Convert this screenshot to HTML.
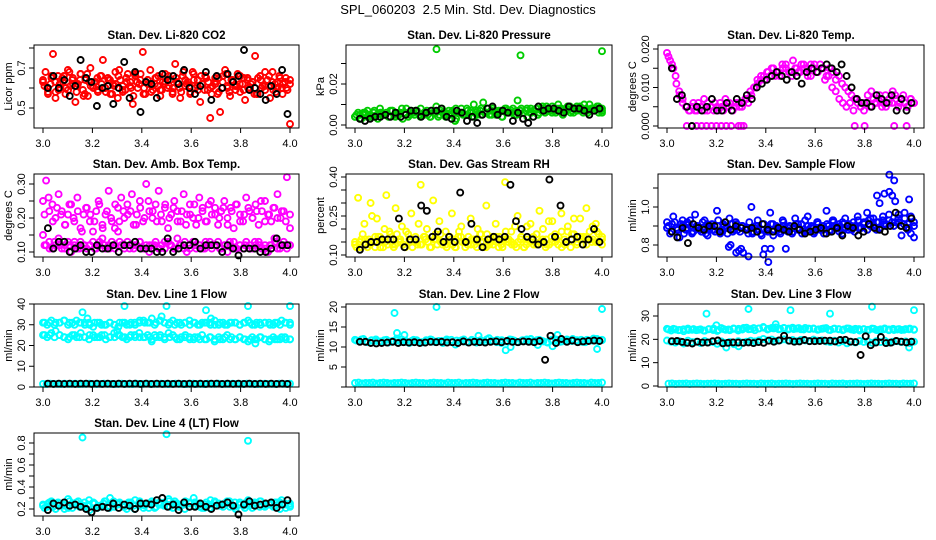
<!DOCTYPE html>
<html><head><meta charset="utf-8">
<style>
html,body{margin:0;padding:0;background:#fff;}
svg{display:block;font-family:"Liberation Sans",sans-serif;}
</style></head>
<body>
<svg id="chart" width="936" height="540" viewBox="0 0 936 540" xmlns="http://www.w3.org/2000/svg">
<rect width="936" height="540" fill="#fff"/>
<text x="468" y="14" text-anchor="middle" font-size="13">SPL_060203&#160; 2.5 Min. Std. Dev. Diagnostics</text>
</svg>
<script>
// ---- data ----
const co2Red = [0.64,0.68,0.58,0.62,0.77,0.55,0.66,0.60,0.63,0.57,0.69,0.61,0.65,0.53,0.62,0.67,0.59,0.64,0.56,0.70,0.61,0.63,0.58,0.66,0.74,0.60,0.65,0.57,0.62,0.68,0.55,0.64,0.61,0.59,0.67,0.63,0.52,0.66,0.60,0.64,0.78,0.57,0.62,0.69,0.59,0.65,0.61,0.56,0.63,0.67,0.60,0.64,0.58,0.72,0.62,0.55,0.66,0.61,0.63,0.57,0.68,0.60,0.64,0.53,0.62,0.66,0.59,0.45,0.61,0.65,0.57,0.48,0.63,0.69,0.60,0.56,0.64,0.61,0.67,0.58,0.62,0.54,0.65,0.60,0.63,0.76,0.57,0.66,0.61,0.59,0.64,0.55,0.68,0.62,0.60,0.65,0.57,0.63,0.59,0.42];
const co2RedB = [0.61,0.57,0.66,0.63,0.59,0.65,0.60,0.68,0.62,0.58,0.64,0.56,0.67,0.61,0.63,0.59,0.66,0.60,0.64,0.57,0.62,0.69,0.58,0.65,0.61,0.56,0.63,0.67,0.60,0.64,0.58,0.62,0.66,0.59,0.63,0.61,0.57,0.65,0.60,0.68,0.62,0.58,0.64,0.61,0.66,0.59,0.63,0.57,0.62,0.65,0.60,0.67,0.58,0.63,0.61,0.66,0.59,0.64,0.62,0.57,0.65,0.60,0.68,0.61,0.63,0.58,0.66,0.62,0.60,0.64];
const co2RedC = [0.63,0.60,0.65,0.58,0.62,0.66,0.59,0.64,0.61,0.67,0.57,0.63,0.60,0.65,0.62,0.58,0.64,0.61,0.66,0.59,0.63,0.60,0.67,0.62,0.57,0.64,0.61,0.65,0.59,0.62,0.66,0.60,0.63,0.58,0.64,0.61,0.67,0.59,0.62,0.65,0.60,0.63,0.58,0.66,0.61,0.64,0.59,0.62,0.65,0.60,0.63,0.57,0.64,0.61,0.66,0.59,0.63,0.60,0.65,0.62];
const co2Black = [0.60,0.66,0.60,0.64,0.56,0.61,0.74,0.65,0.63,0.51,0.60,0.61,0.52,0.60,0.73,0.55,0.68,0.48,0.63,0.62,0.55,0.67,0.64,0.66,0.62,0.69,0.60,0.57,0.61,0.68,0.54,0.66,0.60,0.67,0.63,0.66,0.79,0.59,0.60,0.57,0.54,0.61,0.57,0.69,0.47];

const presGreen = [0.004,0.006,0.003,0.005,0.007,0.004,0.006,0.005,0.008,0.005,0.006,0.004,0.007,0.006,0.005,0.008,0.006,0.004,0.007,0.005,0.006,0.008,0.005,0.007,0.004,0.006,0.009,0.005,0.006,0.004,0.007,0.005,0.002,0.006,0.008,0.005,0.007,0.006,0.010,0.005,0.007,0.011,0.006,0.005,0.008,0.006,0.007,0.004,0.008,0.006,0.007,0.005,0.012,0.007,0.006,0.008,0.006,0.007,0.008,0.006,0.009,0.007,0.008,0.006,0.007,0.010,0.008,0.007,0.009,0.006,0.008,0.007,0.009,0.006,0.008,0.010,0.007,0.008,0.006,0.008];
const presGreenB = [0.005,0.003,0.006,0.004,0.005,0.007,0.003,0.006,0.005,0.004,0.007,0.005,0.006,0.003,0.008,0.005,0.006,0.007,0.004,0.006,0.005,0.007,0.006,0.004,0.008,0.006,0.005,0.007,0.003,0.006,0.005,0.008,0.006,0.004,0.007,0.005,0.006,0.008,0.005,0.007,0.006,0.004,0.007,0.006,0.008,0.005,0.007,0.006,0.004,0.008,0.007,0.005,0.008,0.006,0.007,0.009,0.006,0.008,0.005,0.007,0.009,0.006,0.008,0.007,0.010,0.006,0.008,0.007,0.009,0.006];
const presGreenC = [0.004,0.005,0.006,0.005,0.004,0.006,0.005,0.007,0.004,0.006,0.005,0.006,0.007,0.005,0.006,0.004,0.006,0.007,0.005,0.006,0.008,0.006,0.005,0.007,0.006,0.008,0.006,0.007,0.005,0.007,0.008,0.006,0.007,0.008,0.007,0.006,0.008,0.007,0.009,0.007,0.008,0.006,0.008,0.007,0.009,0.008,0.007,0.008,0.009,0.007];
const presOutX = [3.33,3.67,4.0];
const presOutY = [0.037,0.034,0.036];
const presBlack = [0.003,0.002,0.003,0.004,0.004,0.005,0.004,0.006,0.004,0.005,0.007,0.007,0.004,0.006,0.007,0.007,0.008,0.004,0.003,0.007,0.006,0.002,0.004,0.001,0.005,0.008,0.009,0.005,0.007,0.006,0.002,0.006,0.003,0.001,0.004,0.009,0.007,0.008,0.008,0.007,0.006,0.009,0.008,0.008,0.007,0.005,0.007,0.008];

const tempMag = [0.019,0.017,0.015,0.011,0.008,0.006,0.005,0.004,0.005,0.004,0.006,0.005,0.004,0.006,0.005,0.004,0.005,0.006,0.004,0.005,0.006,0.004,0.005,0.006,0.005,0.007,0.006,0.008,0.010,0.011,0.012,0.013,0.014,0.013,0.015,0.014,0.013,0.015,0.016,0.014,0.013,0.015,0.014,0.016,0.015,0.013,0.016,0.015,0.014,0.016,0.015,0.013,0.015,0.014,0.012,0.013,0.011,0.010,0.009,0.008,0.007,0.006,0.005,0.004,0.006,0.005,0.007,0.006,0.008,0.006,0.005,0.007,0.006,0.008,0.005,0.007,0.006,0.005,0.007,0.006];
const tempMagB = [0.018,0.016,0.013,0.009,0.007,0.005,0.004,0.006,0.004,0.005,0.007,0.004,0.005,0.006,0.004,0.005,0.007,0.005,0.004,0.006,0.005,0.006,0.007,0.009,0.010,0.012,0.013,0.012,0.014,0.015,0.013,0.014,0.016,0.015,0.014,0.017,0.015,0.014,0.016,0.015,0.013,0.016,0.014,0.015,0.012,0.013,0.010,0.009,0.007,0.006,0.005,0.006,0.004,0.007,0.005,0.006,0.008,0.009,0.006,0.007,0.005,0.008,0.006,0.009,0.007,0.006,0.008,0.005,0.007,0.006];
const tempZeroX = [3.08,3.12,3.14,3.16,3.18,3.2,3.22,3.24,3.26,3.29,3.3,3.31,3.76,3.8,3.92,3.97];
const tempZeroY = [0,0,0,0,0,0,0,0,0,0,0,0,0,0,0,0];
const tempBlack = [0.015,0.007,0.008,0.005,0.000,0.005,0.004,0.005,0.007,0.004,0.004,0.006,0.004,0.007,0.006,0.008,0.007,0.010,0.011,0.012,0.013,0.014,0.013,0.012,0.014,0.013,0.011,0.014,0.015,0.014,0.015,0.016,0.015,0.014,0.016,0.013,0.010,0.007,0.006,0.006,0.005,0.008,0.007,0.006,0.008,0.004,0.007,0.004,0.006];

const boxUpper = [0.25,0.31,0.22,0.24,0.20,0.27,0.22,0.18,0.21,0.24,0.19,0.26,0.17,0.21,0.23,0.19,0.16,0.22,0.24,0.18,0.21,0.28,0.19,0.17,0.23,0.26,0.20,0.24,0.22,0.18,0.21,0.25,0.19,0.30,0.22,0.20,0.24,0.28,0.19,0.23,0.17,0.21,0.25,0.22,0.19,0.27,0.21,0.24,0.20,0.18,0.26,0.22,0.19,0.24,0.21,0.23,0.18,0.22,0.25,0.20,0.23,0.17,0.24,0.21,0.19,0.26,0.22,0.20,0.24,0.18,0.22,0.25,0.21,0.19,0.23,0.27,0.20,0.22,0.32,0.17];
const boxUpperB = [0.21,0.26,0.19,0.23,0.21,0.18,0.24,0.20,0.22,0.16,0.23,0.21,0.19,0.25,0.17,0.22,0.20,0.24,0.19,0.22,0.21,0.27,0.18,0.23,0.20,0.25,0.22,0.19,0.21,0.24,0.20,0.23,0.19,0.22,0.18,0.21,0.24,0.20,0.23,0.19,0.25,0.21,0.20,0.23,0.18,0.22,0.24,0.19,0.21,0.23,0.20,0.22,0.25,0.19,0.21,0.23,0.20,0.22,0.19,0.21];
const boxLower = [0.15,0.12,0.13,0.11,0.12,0.14,0.11,0.12,0.13,0.10,0.12,0.11,0.13,0.12,0.11,0.12,0.13,0.11,0.12,0.14,0.11,0.12,0.13,0.11,0.16,0.12,0.11,0.13,0.12,0.11,0.12,0.13,0.11,0.12,0.10,0.12,0.13,0.11,0.12,0.11,0.13,0.12,0.11,0.14,0.12,0.11,0.10,0.12,0.13,0.11,0.12,0.11,0.13,0.12,0.11,0.12,0.13,0.11,0.12,0.10,0.12,0.13,0.11,0.12,0.11,0.13,0.12,0.11,0.12,0.13,0.11,0.12,0.10,0.12,0.14,0.11,0.12,0.13,0.11,0.12];
const boxLowerB = [0.12,0.11,0.13,0.12,0.11,0.12,0.13,0.11,0.12,0.12,0.11,0.13,0.12,0.11,0.12,0.13,0.12,0.11,0.12,0.13,0.11,0.12,0.12,0.11,0.13,0.12,0.11,0.12,0.13,0.11,0.12,0.12,0.11,0.13,0.12,0.11,0.12,0.13,0.11,0.12,0.12,0.11,0.13,0.12,0.11,0.12,0.13,0.11,0.12,0.12];
const boxBlack = [0.17,0.11,0.13,0.13,0.10,0.11,0.12,0.10,0.10,0.12,0.11,0.11,0.12,0.10,0.12,0.12,0.13,0.11,0.11,0.11,0.10,0.10,0.14,0.10,0.11,0.12,0.12,0.13,0.11,0.12,0.12,0.12,0.10,0.12,0.11,0.09,0.11,0.11,0.11,0.10,0.10,0.11,0.14,0.12,0.12];

const rhYellow = [0.14,0.32,0.16,0.22,0.13,0.30,0.15,0.24,0.17,0.13,0.33,0.19,0.14,0.28,0.16,0.21,0.13,0.18,0.26,0.15,0.14,0.37,0.17,0.20,0.13,0.31,0.16,0.23,0.14,0.19,0.15,0.26,0.13,0.17,0.21,0.15,0.14,0.24,0.16,0.13,0.18,0.15,0.29,0.14,0.17,0.22,0.13,0.16,0.38,0.15,0.19,0.14,0.25,0.16,0.13,0.21,0.15,0.17,0.14,0.27,0.16,0.13,0.23,0.15,0.18,0.14,0.26,0.16,0.19,0.13,0.24,0.15,0.17,0.14,0.28,0.16,0.21,0.15,0.18,0.14];
const rhYellowB = [0.13,0.15,0.18,0.14,0.16,0.25,0.13,0.17,0.15,0.20,0.14,0.16,0.13,0.18,0.15,0.14,0.19,0.16,0.13,0.15,0.22,0.14,0.17,0.15,0.13,0.16,0.14,0.18,0.15,0.13,0.17,0.14,0.16,0.19,0.15,0.13,0.17,0.16,0.14,0.20,0.15,0.13,0.18,0.16,0.14,0.15,0.17,0.13,0.19,0.16,0.14,0.21,0.15,0.17,0.13,0.16,0.22,0.14,0.18,0.15,0.20,0.16,0.14,0.23,0.15,0.17,0.19,0.14,0.21,0.16,0.18,0.15,0.24,0.17,0.14,0.19,0.16,0.22,0.15,0.17];
const rhYellowC = [0.15,0.13,0.16,0.14,0.17,0.13,0.15,0.18,0.14,0.16,0.13,0.15,0.17,0.14,0.16,0.13,0.18,0.15,0.14,0.16,0.13,0.17,0.15,0.14,0.16,0.18,0.13,0.15,0.17,0.14,0.16,0.15,0.13,0.17,0.14,0.16,0.18,0.15,0.14,0.17,0.16,0.13,0.15,0.18,0.14,0.16,0.17,0.15,0.19,0.16];
const rhBlack = [0.12,0.14,0.15,0.15,0.16,0.16,0.16,0.24,0.13,0.16,0.16,0.29,0.27,0.17,0.19,0.15,0.17,0.15,0.34,0.15,0.22,0.16,0.13,0.16,0.17,0.16,0.17,0.37,0.23,0.20,0.17,0.16,0.14,0.15,0.39,0.17,0.29,0.15,0.16,0.17,0.14,0.16,0.20,0.15];

const flowBlue = [0.92,0.86,0.95,0.89,0.84,0.93,0.88,0.91,0.86,0.96,0.89,0.87,0.93,0.85,0.90,0.88,0.98,0.86,0.91,0.89,0.94,0.87,0.92,0.77,0.90,0.88,0.86,1.00,0.89,0.93,0.86,0.91,0.88,0.97,0.85,0.90,0.87,0.93,0.78,0.89,0.86,0.94,0.88,0.91,0.87,0.95,0.89,0.86,0.92,0.88,0.90,0.98,0.87,0.93,0.89,0.91,0.86,0.94,0.88,0.90,0.87,0.95,0.89,0.92,0.97,0.90,0.94,0.88,1.02,0.93,0.90,0.96,0.92,1.03,0.94,0.85,0.97,0.91,0.95,0.84];
const flowBlueB = [0.90,0.87,0.92,0.88,0.91,0.86,0.89,0.93,0.87,0.90,0.88,0.92,0.86,0.89,0.91,0.87,0.93,0.88,0.90,0.86,0.80,0.88,0.91,0.87,0.76,0.89,0.92,0.86,0.90,0.88,0.85,0.78,0.87,0.91,0.88,0.89,0.86,0.92,0.88,0.90,0.87,0.91,0.89,0.86,0.93,0.88,0.90,0.87,0.92,0.89,0.86,0.91,0.88,0.93,0.90,0.87,0.92,0.89,0.91,0.88,0.90,0.93,0.89,0.91,0.88,0.94,0.90,0.92,0.89,0.95,0.91,0.93,1.06,0.92,0.96,0.90,0.94,0.88,0.86,0.92];
const flowBlueC = [0.89,0.91,0.88,0.90,0.92,0.87,0.90,0.89,0.91,0.88,0.90,0.87,0.89,0.91,0.88,0.90,0.89,0.87,0.90,0.88,0.89,0.91,0.88,0.90,0.87,0.89,0.91,0.88,0.90,0.89,0.91,0.88,0.90,0.92,0.89,0.91,0.90,0.92,0.89,0.91,0.93,0.90,0.92,0.91,0.93,0.90,0.92,0.91,0.89,0.90];
const flowOutX = [3.25,3.28,3.30,3.33,3.39,3.41,3.42,3.85,3.88,3.90,3.92,3.98,3.90];
const flowOutY = [0.79,0.76,0.78,0.74,0.75,0.71,0.78,1.06,1.07,1.17,1.14,1.04,1.08];
const flowBlack = [0.87,0.84,0.89,0.81,0.91,0.89,0.88,0.90,0.90,0.87,0.92,0.88,0.90,0.89,0.88,0.89,0.87,0.91,0.88,0.87,0.89,0.88,0.87,0.90,0.88,0.86,0.87,0.88,0.89,0.86,0.87,0.89,0.85,0.90,0.89,0.85,0.87,0.91,0.89,0.88,0.87,0.90,0.97,0.90,0.89,0.94];

const l1Upper = [31,30,32,31,31,32,30,31,32,31,30,31,29,31,30,30,31,30,29,31,30,31,30,31,32,31,33,31,32,31,30,32,31,30,31,32,31,30,31,31,30,32,30,31,30,31,31,30,31,32,30,31,30,31,31,30,31,32,31,30];
const l1UpperB = [31,31,30,31,32,31,30,31,31,30,31,31,30,31,30,31,31,30,31,32,31,31,30,32,31,31,30,31,31,30,31,30,31,31,30,31,30,31,31,30,31,31,30,31,31,30,31,30,31,31];
const l1Mid = [25,24,26,27,25,24,23,25,24,26,24,23,25,24,25,23,24,26,25,24,23,25,24,26,24,25,23,24,25,24,26,25,23,24,25,24,23,24,25,23,24,22,24,23,25,24,23,24,23,22,24,23,24,23,22,24,23,24,23,23];
const l1MidB = [25,25,24,25,24,24,25,24,24,25,24,24,25,24,24,25,24,24,25,24,24,24,25,24,23,24,24,23,24,23,24,23,23,24,23,23,24,23,23,24,23,23,23,24,23,23,23,23,24,23];
const l1Low = [1.5,1.4,1.6,1.5,1.5,1.4,1.6,1.5,1.5,1.6,1.4,1.5,1.5,1.6,1.5,1.4,1.5,1.6,1.5,1.5,1.4,1.5,1.6,1.5,1.5,1.4,1.6,1.5,1.5,1.6,1.4,1.5,1.5,1.6,1.5,1.4,1.5,1.6,1.5,1.5,1.4,1.5,1.6,1.5,1.5,1.4,1.6,1.5,1.5,1.6,1.4,1.5,1.5,1.6,1.5,1.4,1.5,1.6,1.5,1.5,1.4,1.5,1.6,1.5,1.5,1.4,1.6,1.5,1.5,1.6];
const l1OutX = [3.16,3.33,3.50,3.66,3.83,4.00,3.18,3.48,3.68,3.30,3.44,3.86];
const l1OutY = [36,39,39,37,39,39,33,34,33,27,22,21];
const l1Black = [1.6,1.5,1.6,1.5,1.6,1.5,1.6,1.6,1.5,1.6,1.5,1.6,1.5,1.6,1.5,1.6,1.6,1.5,1.6,1.5,1.6,1.5,1.6,1.5,1.6,1.5,1.6,1.5,1.6,1.5,1.6,1.6,1.5,1.6,1.5,1.6,1.5,1.6,1.5,1.6,1.5,1.6,1.5,1.6,1.5];

const l2Band = [11.8,11.5,12.0,11.2,11.6,11.9,11.4,11.7,11.1,11.5,12.1,11.3,11.6,11.0,11.8,11.4,11.2,11.7,11.9,11.3,11.5,11.0,11.6,11.8,10.6,11.4,11.9,11.2,11.6,11.1,11.7,11.3,12.2,11.5,11.8,11.0,11.4,11.9,11.6,11.2,11.7,11.5,12.0,11.3,11.8,11.4,11.1,11.6,11.9,11.3,11.7,11.5,12.0,11.4,11.8,11.2,11.6,12.1,11.5,11.8];
const l2BandB = [11.6,11.9,11.3,11.7,11.5,11.2,11.8,11.4,11.6,11.9,11.3,11.5,11.7,11.1,11.6,11.8,11.4,11.5,11.9,11.2,11.6,11.7,11.3,11.8,11.5,11.4,11.9,11.6,11.2,11.7,11.5,11.8,11.3,11.6,11.9,11.4,11.7,11.5,11.2,11.8,11.6,11.4,11.9,11.5,11.7,11.3,11.8,11.6,12.0,11.7];
const l2Low = [1.0,1.1,0.9,1.0,1.0,1.1,0.9,1.0,1.1,1.0,0.9,1.0,1.0,1.1,1.0,0.9,1.0,1.1,1.0,1.0,0.9,1.0,1.1,1.0,1.0,0.9,1.1,1.0,1.0,1.1,0.9,1.0,1.0,1.1,1.0,0.9,1.0,1.1,1.0,1.0,0.9,1.0,1.1,1.0,1.0,0.9,1.1,1.0,1.0,1.1,0.9,1.0,1.0,1.1,1.0,0.9,1.0,1.1,1.0,1.0,0.9,1.0,1.1,1.0,1.0,0.9,1.1,1.0,1.0,1.1];
const l2OutX = [3.16,3.33,3.17,3.20,3.50,3.61,3.63,3.74,3.80,3.98,4.00,3.82];
const l2OutY = [18.5,20.0,13.5,13.0,12.8,9.2,10.0,10.5,10.2,9.5,19.5,13.0];
const l2Black = [11.3,11.3,11.0,10.9,11.0,11.1,11.3,11.0,11.2,11.1,11.2,11.0,11.1,11.3,11.2,11.3,11.1,11.2,11.0,11.4,11.1,11.3,11.2,11.1,11.3,11.4,11.2,11.5,11.3,11.2,11.4,11.3,11.2,11.5,6.8,12.8,11.0,12.0,11.3,11.6,11.2,11.4,11.5,11.6,11.5];

const l3Upper = [24.5,23.8,24.2,24.0,23.5,24.6,24.1,23.9,24.3,23.7,24.4,24.0,23.6,24.8,24.1,23.9,24.5,23.8,24.2,25.0,24.4,23.9,24.7,25.3,24.2,24.9,25.1,24.5,24.8,24.2,25.0,24.6,24.3,24.9,24.4,24.7,24.1,24.5,24.8,24.0,24.6,24.3,23.9,24.7,24.2,24.5,23.8,24.4,24.1,24.6,24.0,24.3,24.7,23.9,24.5,24.2,24.0,24.4,24.6,24.1];
const l3UpperB = [24.2,24.5,23.9,24.3,24.0,24.4,24.1,23.8,24.3,24.6,24.0,24.4,24.2,24.7,24.5,24.9,24.3,24.8,24.6,25.0,24.5,24.7,24.3,24.9,24.6,24.4,24.8,24.2,24.6,24.5,24.3,24.7,24.1,24.5,24.4,24.2,24.6,24.0,24.4,24.3,24.1,24.5,23.9,24.3,24.2,24.0,24.4,24.1,24.3,24.2];
const l3Mid = [19.5,19.0,18.6,19.2,18.2,19.4,18.8,19.0,18.4,19.3,18.7,18.9,18.1,19.1,18.5,18.9,17.9,19.2,18.6,19.0,19.4,19.1,19.6,20.2,19.5,19.9,19.3,19.6,20.0,19.4,19.7,19.2,19.8,19.5,19.3,19.9,19.4,19.6,19.1,18.8,19.4,18.6,19.2,18.3,19.0,18.7,19.3,18.9,19.1,18.5,19.2,18.8,19.4,18.6,19.0,19.2,18.8,19.1,18.4,19.0];
const l3Low = [1.0,1.1,0.9,1.0,1.0,1.1,0.9,1.0,1.1,1.0,0.9,1.0,1.0,1.1,1.0,0.9,1.0,1.1,1.0,1.0,0.9,1.0,1.1,1.0,1.0,0.9,1.1,1.0,1.0,1.1,0.9,1.0,1.0,1.1,1.0,0.9,1.0,1.1,1.0,1.0,0.9,1.0,1.1,1.0,1.0,0.9,1.1,1.0,1.0,1.1,0.9,1.0,1.0,1.1,1.0,0.9,1.0,1.1,1.0,1.0,0.9,1.0,1.1,1.0,1.0,0.9,1.1,1.0,1.0,1.1];
const l3OutX = [3.16,3.33,3.50,3.66,3.83,4.00,3.20,3.44,3.24,3.29,3.98];
const l3OutY = [31,33,32.5,31,34,32.5,26,26.5,16.5,17,16.5];
const l3Black = [19.2,19.3,18.9,18.5,18.2,19.0,18.6,18.6,19.2,19.5,18.3,18.5,18.7,18.6,18.5,18.7,18.4,18.8,18.5,19.4,19.0,19.5,21.5,19.4,19.0,19.1,19.7,19.2,19.2,19.3,19.4,19.4,19.1,19.7,19.8,19.0,18.8,13.3,21.3,17.5,18.6,21.0,18.4,18.6,19.3,19.0,18.7,19.0];

const l4Band = [0.24,0.22,0.27,0.20,0.25,0.23,0.29,0.21,0.26,0.24,0.22,0.28,0.25,0.21,0.23,0.27,0.30,0.22,0.25,0.24,0.20,0.26,0.28,0.23,0.21,0.25,0.27,0.22,0.24,0.26,0.29,0.21,0.25,0.23,0.27,0.22,0.30,0.24,0.21,0.26,0.28,0.23,0.25,0.22,0.27,0.24,0.20,0.26,0.23,0.28,0.21,0.25,0.27,0.23,0.24,0.22,0.26,0.28,0.21,0.25];
const l4BandB = [0.21,0.26,0.23,0.25,0.20,0.27,0.24,0.22,0.26,0.19,0.25,0.23,0.27,0.21,0.24,0.26,0.22,0.25,0.20,0.27,0.23,0.25,0.21,0.26,0.24,0.22,0.27,0.23,0.20,0.25,0.26,0.22,0.24,0.21,0.27,0.23,0.25,0.22,0.26,0.24,0.21,0.25,0.23,0.27,0.22,0.24,0.26,0.20,0.25,0.23];
const l4BandC = [0.23,0.25,0.22,0.26,0.24,0.21,0.25,0.27,0.23,0.24,0.26,0.22,0.25,0.23,0.27,0.24,0.22,0.26,0.23,0.25,0.24,0.21,0.26,0.24,0.23,0.27,0.25,0.22,0.24,0.26,0.23,0.25,0.21,0.24,0.26,0.23,0.25,0.27,0.22,0.24,0.25,0.23,0.26,0.22,0.24,0.25,0.23,0.26,0.24,0.22];
const l4OutX = [3.16,3.50,3.83];
const l4OutY = [0.85,0.88,0.82];
const l4Black = [0.19,0.25,0.23,0.26,0.23,0.24,0.22,0.20,0.17,0.21,0.22,0.21,0.25,0.21,0.24,0.23,0.20,0.25,0.25,0.24,0.28,0.30,0.22,0.24,0.19,0.26,0.22,0.22,0.25,0.22,0.20,0.23,0.24,0.26,0.23,0.15,0.24,0.27,0.23,0.24,0.25,0.26,0.21,0.24,0.28];

// ---- layout ----
const cols=[{x0:34,x1:299,a:43,b:290},{x0:346,x1:612,a:355,b:602},{x0:658,x1:924,a:667,b:914}];
const rows=[{y0:45,y1:128},{y0:174,y1:257},{y0:304,y1:387},{y0:433,y1:516}];
const xTicks=[3.0,3.2,3.4,3.6,3.8,4.0];
const NS='http://www.w3.org/2000/svg';
const svg=document.getElementById('chart');
function el(tag,attrs,parent){const e=document.createElementNS(NS,tag);for(const k in attrs)e.setAttribute(k,attrs[k]);(parent||svg).appendChild(e);return e;}

const panels=[
 {id:'co2',c:0,r:0,title:'Stan. Dev. Li-820 CO2',ylab:'Licor ppm',m:[0.5,108,0.7,68],ticks:[0.5,0.6,0.7,0.8],labels:{'0.5':'0.5','0.7':'0.7'},
  ser:[['#ff0000',co2Red],['#ff0000',co2RedB],['#ff0000',co2RedC]],pts:[],blk:co2Black},
 {id:'pressure',c:1,r:0,title:'Stan. Dev. Li-820 Pressure',ylab:'kPa',m:[0,125,0.02,84],ticks:[0,0.01,0.02,0.03],labels:{'0':'0.00','0.02':'0.02'},
  ser:[['#00cc00',presGreen],['#00cc00',presGreenB],['#00cc00',presGreenC]],pts:[['#00cc00',presOutX,presOutY]],blk:presBlack},
 {id:'li820-temp',c:2,r:0,title:'Stan. Dev. Li-820 Temp.',ylab:'degrees C',m:[0,126,0.02,49],ticks:[0,0.005,0.01,0.015,0.02],labels:{'0':'0.000','0.01':'0.010','0.02':'0.020'},
  ser:[['#ff00ff',tempMag],['#ff00ff',tempMagB]],pts:[['#ff00ff',tempZeroX,tempZeroY]],blk:tempBlack},
 {id:'amb-box-temp',c:0,r:1,title:'Stan. Dev. Amb. Box Temp.',ylab:'degrees C',m:[0.1,252,0.3,184],ticks:[0.1,0.15,0.2,0.25,0.3],labels:{'0.1':'0.10','0.2':'0.20','0.3':'0.30'},
  ser:[['#ff00ff',boxUpper],['#ff00ff',boxUpperB],['#ff00ff',boxLower],['#ff00ff',boxLowerB]],pts:[],blk:boxBlack},
 {id:'gas-rh',c:1,r:1,title:'Stan. Dev. Gas Stream RH',ylab:'percent',m:[0.1,255,0.4,177],ticks:[0.1,0.15,0.2,0.25,0.3,0.35,0.4],labels:{'0.1':'0.10','0.25':'0.25','0.4':'0.40'},
  ser:[['#ffff00',rhYellow],['#ffff00',rhYellowB],['#ffff00',rhYellowC]],pts:[],blk:rhBlack},
 {id:'sample-flow',c:2,r:1,title:'Stan. Dev. Sample Flow',ylab:'ml/min',m:[0.8,245,1.0,207],ticks:[0.8,0.9,1.0,1.1],labels:{'0.8':'0.8','1':'1.0'},
  ser:[['#0000ff',flowBlue],['#0000ff',flowBlueB],['#0000ff',flowBlueC]],pts:[['#0000ff',flowOutX,flowOutY]],blk:flowBlack},
 {id:'line1-flow',c:0,r:2,title:'Stan. Dev. Line 1 Flow',ylab:'ml/min',m:[0,387,40,304],ticks:[0,10,20,30,40],labels:{'0':'0','10':'10','20':'20','30':'30','40':'40'},
  ser:[['#00ffff',l1Upper],['#00ffff',l1UpperB],['#00ffff',l1Mid],['#00ffff',l1MidB],['#00ffff',l1Low]],pts:[['#00ffff',l1OutX,l1OutY]],blk:l1Black},
 {id:'line2-flow',c:1,r:2,title:'Stan. Dev. Line 2 Flow',ylab:'ml/min',m:[0,387,20,307],ticks:[0,5,10,15,20],labels:{'5':'5','10':'10','15':'15','20':'20'},
  ser:[['#00ffff',l2Band],['#00ffff',l2BandB],['#00ffff',l2Low]],pts:[['#00ffff',l2OutX,l2OutY]],blk:l2Black},
 {id:'line3-flow',c:2,r:2,title:'Stan. Dev. Line 3 Flow',ylab:'ml/min',m:[0,386,30,316],ticks:[0,10,20,30],labels:{'0':'0','10':'10','20':'20','30':'30'},
  ser:[['#00ffff',l3Upper],['#00ffff',l3UpperB],['#00ffff',l3Mid],['#00ffff',l3Low]],pts:[['#00ffff',l3OutX,l3OutY]],blk:l3Black},
 {id:'line4-flow',c:0,r:3,title:'Stan. Dev. Line 4 (LT) Flow',ylab:'ml/min',m:[0.2,509,0.8,443],ticks:[0.2,0.3,0.4,0.5,0.6,0.7,0.8],labels:{'0.2':'0.2','0.4':'0.4','0.6':'0.6','0.8':'0.8'},
  ser:[['#00ffff',l4Band],['#00ffff',l4BandB],['#00ffff',l4BandC]],pts:[['#00ffff',l4OutX,l4OutY]],blk:l4Black}
];

function circle(g,x,y,color){
  const c=el('circle',{cx:x.toFixed(1),cy:y.toFixed(1),r:3,fill:'none',stroke:color,'stroke-width':1.9},g);
  
  
}

panels.forEach(p=>{
  const C=cols[p.c],R=rows[p.r];
  const xs=v=>C.a+(v-3)*(C.b-C.a);
  const ys=v=>p.m[1]+(v-p.m[0])*(p.m[3]-p.m[1])/(p.m[2]-p.m[0]);
  const g=el('g',{});
  
  
  const t=el('text',{x:(C.x0+C.x1)/2,y:R.y0-6,'text-anchor':'middle','font-size':11.5,'font-weight':'bold'},g);
  t.textContent=p.title;
  
  
  const pg=el('g',{},g);
  
  
  p.ser.forEach((s,k)=>{const arr=s[1];const n=arr.length;const off=(k%2)*0.006;arr.forEach((v,i)=>circle(pg,xs(3+off+(1-off)*i/(n-1)),ys(v),s[0]));});
  p.pts.forEach(s=>{s[1].forEach((xv,i)=>circle(pg,xs(xv),ys(s[2][i]),s[0]));});
  const nb=p.blk.length;
  p.blk.forEach((v,i)=>circle(pg,xs(3.02+0.97*i/(nb-1)),ys(v),'#000'));
  const box=el('rect',{x:C.x0,y:R.y0,width:C.x1-C.x0,height:R.y1-R.y0,fill:'none',stroke:'#000','stroke-width':1},g);
  
  
  const xa=el('g',{},g);
  
  
  el('line',{x1:xs(3),x2:xs(4),y1:R.y1,y2:R.y1,stroke:'#000'},xa);
  xTicks.forEach(v=>{
    el('line',{x1:xs(v),x2:xs(v),y1:R.y1,y2:R.y1+5,stroke:'#000'},xa);
    const tl=el('text',{x:xs(v),y:R.y1+19,'text-anchor':'middle','font-size':11},xa);
    tl.textContent=v.toFixed(1);
    
    
  });
  const ya=el('g',{},g);
  
  
  el('line',{x1:C.x0,x2:C.x0,y1:ys(p.ticks[0]),y2:ys(p.ticks[p.ticks.length-1]),stroke:'#000'},ya);
  p.ticks.forEach(v=>{
    el('line',{x1:C.x0-5,x2:C.x0,y1:ys(v),y2:ys(v),stroke:'#000'},ya);
    const key=String(+v.toFixed(4));
    if(p.labels[key]!==undefined){
      const yy=ys(v);
      const tl=el('text',{x:0,y:0,'text-anchor':'middle','font-size':11,transform:`translate(${C.x0-9},${yy}) rotate(-90)`},ya);
      tl.textContent=p.labels[key];
      
      
    }
  });
  const yl=el('text',{x:0,y:0,'text-anchor':'middle','font-size':11,transform:`translate(${C.x0-22},${(R.y0+R.y1)/2}) rotate(-90)`},g);
  yl.textContent=p.ylab;
  
  
});
</script>
</body></html>
